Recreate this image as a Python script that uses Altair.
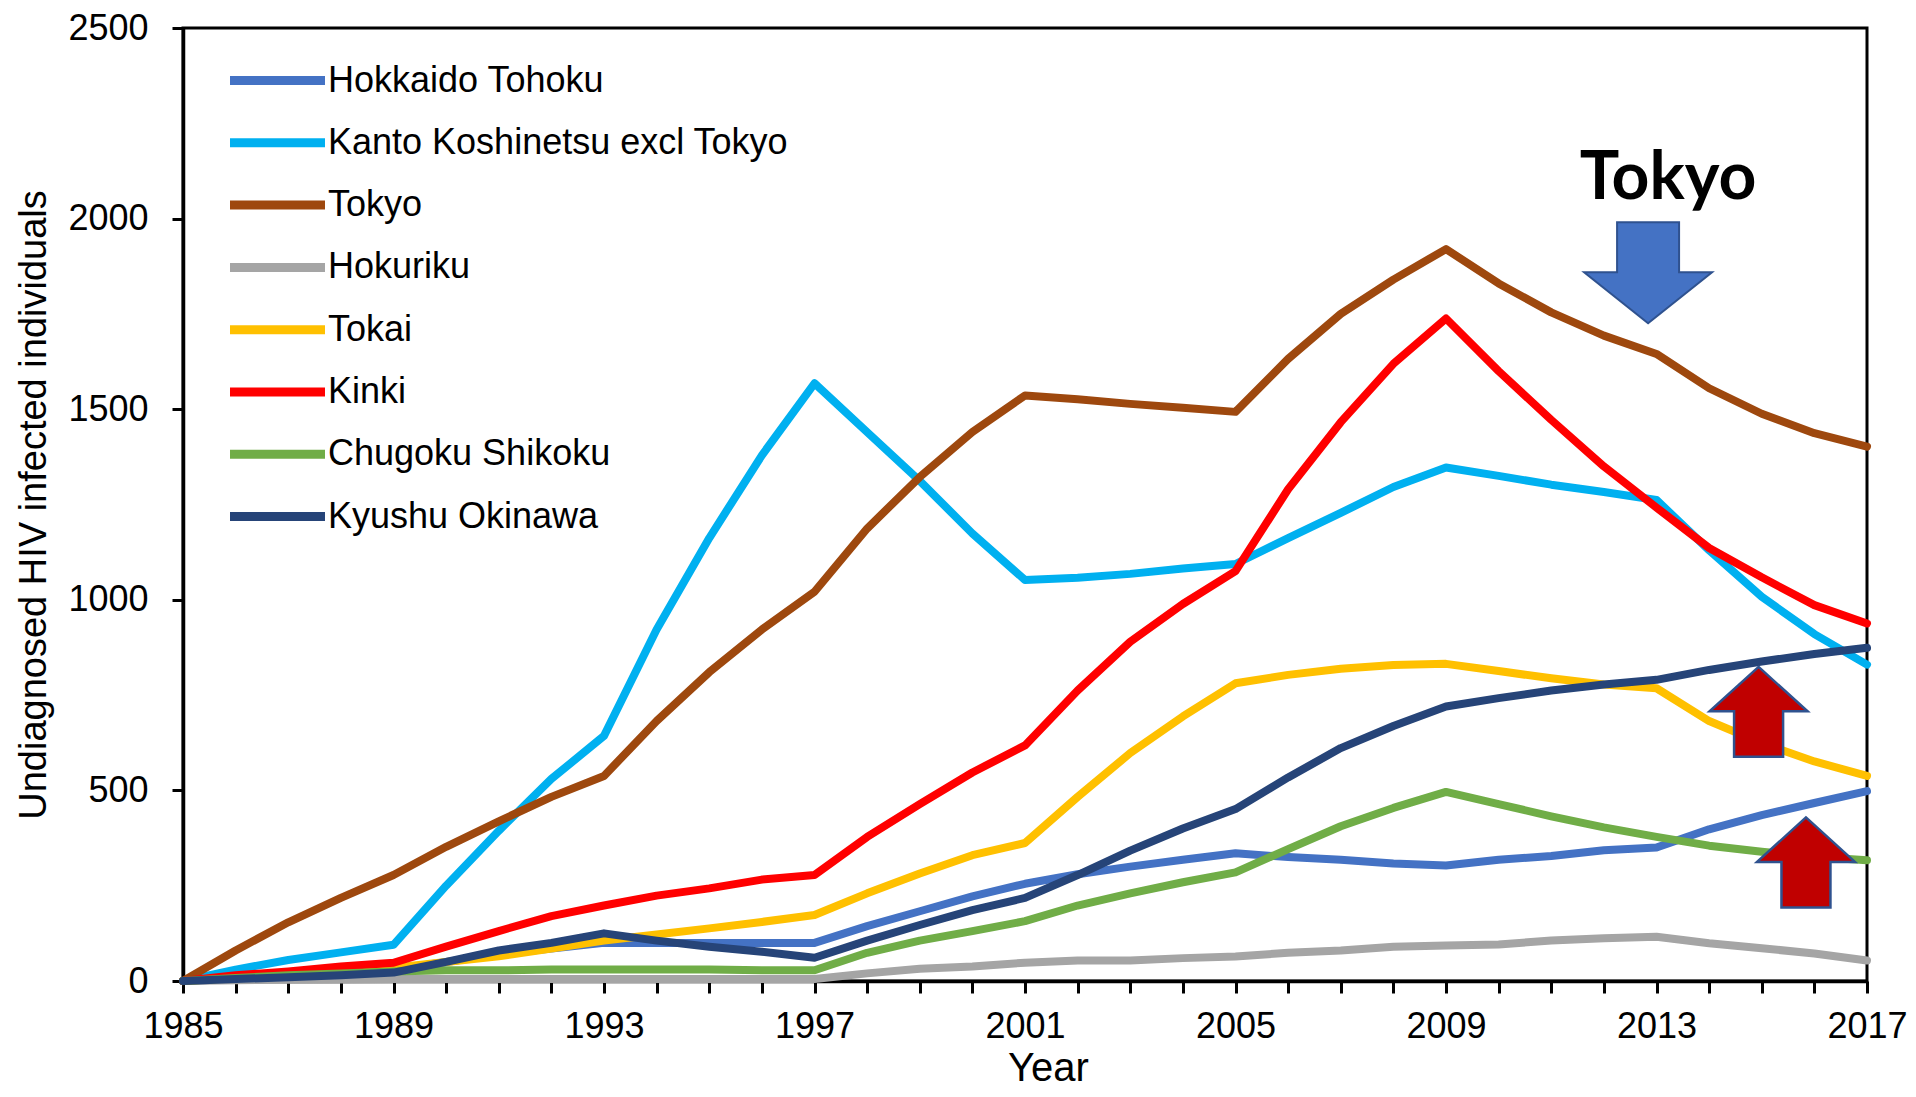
import altair as alt
import pandas as pd

years = list(range(1985, 2018))

series = [
    "Hokkaido Tohoku",
    "Kanto Koshinetsu excl Tokyo",
    "Tokyo",
    "Hokuriku",
    "Tokai",
    "Kinki",
    "Chugoku Shikoku",
    "Kyushu Okinawa",
]
colors = ["#4472C4", "#00B0F0", "#9E480E", "#A5A5A5", "#FFC000", "#FF0000", "#70AD47", "#264478"]

hokkaido_tohoku = [0, 5, 10, 18, 30, 50, 70, 85, 100, 100, 100, 100, 100, 144, 183, 222, 255,
                   280, 300, 318, 335, 325, 318, 308, 303, 318, 328, 343, 350, 398, 435, 467, 498]
kanto = [0, 30, 55, 75, 95, 250, 394, 530, 643, 922, 1162, 1379, 1568, 1440, 1312, 1174, 1052,
         1058, 1068, 1082, 1094, 1162, 1228, 1296, 1347, 1325, 1302, 1283, 1262, 1130, 1008, 910, 830]
tokyo = [0, 80, 154, 218, 278, 352, 419, 483, 538, 682, 810, 922, 1021, 1187, 1322, 1440, 1536,
         1526, 1514, 1504, 1493, 1632, 1750, 1840, 1920, 1830, 1754, 1693, 1645, 1555, 1488, 1437, 1402]
hokuriku = [0, 2, 3, 4, 5, 5, 5, 5, 5, 5, 5, 5, 5, 20, 32, 38, 48,
            54, 54, 60, 64, 74, 80, 90, 93, 96, 106, 112, 116, 99, 86, 72, 54]
tokai = [0, 8, 15, 25, 35, 50, 65, 85, 106, 122, 138, 155, 173, 230, 282, 330, 362,
         483, 598, 694, 781, 803, 819, 829, 832, 813, 794, 778, 768, 682, 624, 576, 538]
kinki = [0, 15, 25, 38, 48, 90, 131, 170, 198, 224, 243, 266, 278, 378, 464, 547, 618,
         762, 890, 989, 1075, 1290, 1466, 1619, 1738, 1600, 1472, 1350, 1242, 1136, 1059, 986, 938]
chugoku = [0, 8, 15, 20, 25, 28, 28, 30, 30, 30, 30, 28, 28, 74, 106, 131, 157,
           198, 230, 259, 285, 346, 406, 454, 496, 464, 432, 403, 378, 355, 339, 326, 317]
kyushu = [0, 5, 10, 15, 22, 50, 80, 100, 125, 106, 90, 77, 61, 106, 147, 186, 218,
          278, 342, 400, 451, 534, 611, 669, 720, 742, 762, 778, 790, 816, 838, 858, 874]

all_values = [hokkaido_tohoku, kanto, tokyo, hokuriku, tokai, kinki, chugoku, kyushu]

# annotation positions (data units)
down_arrow_year = [2012.84]
down_arrow_value = [1858]
up_arrow_years = [2014.94, 2015.84]
up_arrow_values = [706, 311]
label_year = [2013.22]
label_value = [2051]
label_text = ["Tokyo"]

rows = []
for name, vals in zip(series, all_values):
    for yr, v in zip(years, vals):
        rows.append({"Region": name, "Year": yr, "Value": v})
df = pd.DataFrame(rows)

down_df = pd.DataFrame({"Year": down_arrow_year, "Value": down_arrow_value})
up_df = pd.DataFrame({"Year": up_arrow_years, "Value": up_arrow_values})
lab_df = pd.DataFrame({"Year": label_year, "Value": label_value, "t": label_text})

FONT = "Liberation Sans"

x_enc = alt.X(
    "Year:Q",
    scale=alt.Scale(domain=[1985, 2017], nice=False, zero=False),
    axis=alt.Axis(
        values=years,
        labelExpr="(datum.value - 1985) % 4 == 0 ? datum.value : ''",
        format="d",
        grid=False,
        tickSize=12,
        tickWidth=3,
        tickColor="black",
        domainColor="black",
        domainWidth=3.5,
        labelFont=FONT,
        labelFontSize=36,
        labelColor="black",
        labelPadding=16,
        labelFlush=False,
        labelOverlap=False,
        title="Year",
        titleFont=FONT,
        titleFontSize=40,
        titleFontWeight="normal",
        titleColor="black",
        titleX=865,
        titleY=99,
        titleAlign="center",
        titleBaseline="alphabetic",
    ),
)

y_enc = alt.Y(
    "Value:Q",
    scale=alt.Scale(domain=[0, 2500], nice=False),
    axis=alt.Axis(
        values=[0, 500, 1000, 1500, 2000, 2500],
        format="d",
        grid=False,
        tickSize=11,
        tickWidth=3,
        tickColor="black",
        domainColor="black",
        domainWidth=3.5,
        labelFont=FONT,
        labelFontSize=36,
        labelColor="black",
        labelPadding=24,
        labelFlush=False,
        labelOverlap=False,
        title="Undiagnosed  HIV infected individuals",
        titleFont=FONT,
        titleFontSize=38,
        titleFontWeight="normal",
        titleColor="black",
        titleX=-138,
        titleY=476.5,
        titleAngle=270,
        titleAlign="center",
        titleBaseline="alphabetic",
    ),
)

lines = alt.Chart(df).mark_line(strokeWidth=8, strokeCap="round", strokeJoin="round").encode(
    x=x_enc,
    y=y_enc,
    color=alt.Color(
        "Region:N",
        title=None,
        scale=alt.Scale(domain=series, range=colors),
        legend=alt.Legend(
            orient="none",
            legendX=66,
            legendY=24,
            padding=0,
            symbolType="M-2,0H2",
            symbolSize=2256,
            symbolStrokeWidth=9,
            symbolOpacity=1,
            labelFont=FONT,
            labelFontSize=36,
            labelColor="black",
            labelOffset=22,
            labelLimit=900,
            rowPadding=15.3,
        ),
    ),
)

down_path = "M-31,-50.5L31,-50.5L31,-0.5L64,-0.5L0,50.5L-64,-0.5L-31,-0.5Z"
up_path = "M0,-45L49,-0.5L24.5,-0.5L24.5,45L-24.5,45L-24.5,-0.5L-49,-0.5Z"

down_arrow = alt.Chart(down_df).mark_point(
    shape=down_path, size=4, filled=True, fill="#4472C4", stroke="#2F528F",
    strokeWidth=2, opacity=1, fillOpacity=1,
).encode(x=x_enc, y=y_enc)

up_arrows = alt.Chart(up_df).mark_point(
    shape=up_path, size=4, filled=True, fill="#C00000", stroke="#2F528F",
    strokeWidth=2.5, opacity=1, fillOpacity=1,
).encode(x=x_enc, y=y_enc)

tokyo_label = alt.Chart(lab_df).mark_text(
    font="Lato", fontWeight="bold", fontSize=66, color="black",
    align="center", baseline="alphabetic",
).encode(x=x_enc, y=y_enc, text="t:N")

chart = alt.layer(lines, down_arrow, up_arrows, tokyo_label).properties(
    width=1684,
    height=953,
    autosize=alt.AutoSizeParams(type="none"),
    padding={"left": 175, "top": 20, "right": 41, "bottom": 108},
    background="white",
).configure_view(stroke="black", strokeWidth=3)

chart.save("out.html", embed_options={"renderer": "svg", "actions": False})
